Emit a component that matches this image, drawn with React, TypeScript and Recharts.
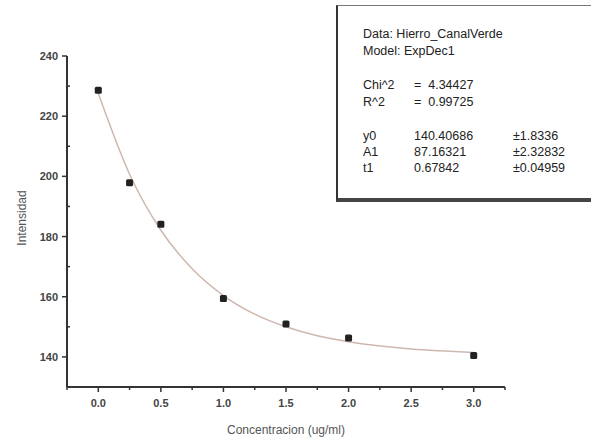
import React from "react"
import { ComposedChart, Line, Scatter, XAxis, YAxis } from "recharts"

// measured points
const concentracion = [0, 0.25, 0.5, 1.0, 1.5, 2.0, 3.0]
const intensidad = [228.6, 197.9, 184.1, 159.4, 150.9, 146.3, 140.5]

// ExpDec1 fit curve
const fitX = [0, 0.25, 0.5, 0.75, 1.0, 1.25, 1.5, 1.75, 2.0, 2.5, 3.0]
const fitY = [227.6, 200.7, 182.1, 169.3, 160.4, 154.2, 150.0, 147.0, 145.0, 142.6, 141.5]

const xTicks = [-0.25, 0, 0.25, 0.5, 0.75, 1.0, 1.25, 1.5, 1.75, 2.0, 2.25, 2.5, 2.75, 3.0, 3.25]
const yTicks = [140, 150, 160, 170, 180, 190, 200, 210, 220, 230, 240]

const fitRows = [
  { name: "y0", value: "140.40686", err: "±1.8336" },
  { name: "A1", value: "87.16321", err: "±2.32832" },
  { name: "t1", value: "0.67842", err: "±0.04959" },
]

const points = concentracion.map((x, i) => ({ x, y: intensidad[i] }))
const curve = fitX.map((x, i) => ({ x, y: fitY[i] }))

const axisColor = "#333"
const font = "'Liberation Sans', Arial, sans-serif"

function XTick(props: any) {
  const { x, y, payload } = props
  const v = payload.value
  const major = Math.abs(v * 2 - Math.round(v * 2)) < 1e-6 && v >= 0 && v <= 3
  return (
    <g>
      <line x1={x} x2={x} y1={y} y2={y + (major ? 5 : 3)} stroke={axisColor} strokeWidth={1.5} />
      {major && (
        <text x={x} y={y + 20} textAnchor="middle" fontSize={11} fontWeight="bold" fill="#444" fontFamily={font}>
          {v.toFixed(1)}
        </text>
      )}
    </g>
  )
}

function YTick(props: any) {
  const { x, y, payload } = props
  const v = payload.value
  const major = v % 20 === 0
  return (
    <g>
      <line x1={x} x2={major ? x - 5 : x + 3} y1={y} y2={y} stroke={axisColor} strokeWidth={1.5} />
      {major && (
        <text x={x - 9} y={y + 4} textAnchor="end" fontSize={11} fontWeight="bold" fill="#444" fontFamily={font}>
          {v}
        </text>
      )}
    </g>
  )
}

function Marker(props: any) {
  const { cx, cy } = props
  return <rect x={cx - 3.5} y={cy - 3.5} width={7} height={7} rx={1.5} fill="#222" />
}

export default function App() {
  return (
    <div style={{ position: "absolute", left: 0, top: 0, width: 591, height: 438, background: "#fff" }}>
      <ComposedChart width={591} height={438} margin={{ top: 56, right: 86, bottom: 0, left: 0 }}>
        <XAxis
          type="number"
          dataKey="x"
          domain={[-0.25, 3.25]}
          ticks={xTicks}
          interval={0}
          height={51}
          tickSize={0}
          tickMargin={0}
          tickLine={false}
          axisLine={{ stroke: axisColor, strokeWidth: 2 }}
          tick={<XTick />}
          allowDataOverflow
          label={{
            content: () => (
              <text x={286} y={434} textAnchor="middle" fontSize={12} fill="#555" fontFamily={font}>
                Concentracion (ug/ml)
              </text>
            ),
          }}
        />
        <YAxis
          type="number"
          dataKey="y"
          domain={[130, 240]}
          ticks={yTicks}
          interval={0}
          width={67}
          tickSize={0}
          tickMargin={0}
          tickLine={false}
          axisLine={{ stroke: axisColor, strokeWidth: 2 }}
          tick={<YTick />}
          allowDataOverflow
          label={{
            content: () => (
              <text
                x={26}
                y={218}
                transform="rotate(-90 26 218)"
                textAnchor="middle"
                fontSize={12}
                fill="#555"
                fontFamily={font}
              >
                Intensidad
              </text>
            ),
          }}
        />
        <Line
          data={curve}
          dataKey="y"
          type="monotone"
          stroke="#cdb8ae"
          strokeWidth={1.5}
          dot={false}
          activeDot={false}
          isAnimationActive={false}
        />
        <Scatter data={points} dataKey="y" shape={<Marker />} isAnimationActive={false} />
      </ComposedChart>
      <div
        style={{
          position: "absolute",
          left: 336,
          top: 5,
          width: 262,
          height: 192,
          borderLeft: "2px solid #333",
          borderTop: "1px solid #777",
          borderBottom: "4px solid #444",
          background: "#fff",
          fontFamily: font,
          fontSize: 12.5,
          color: "#222",
          lineHeight: "17px",
        }}
      >
        <div style={{ position: "absolute", left: 25, top: 20 }}>Data: Hierro_CanalVerde</div>
        <div style={{ position: "absolute", left: 25, top: 37 }}>Model: ExpDec1</div>
        <div style={{ position: "absolute", left: 25, top: 71 }}>Chi^2</div>
        <div style={{ position: "absolute", left: 76, top: 71 }}>=&nbsp;&nbsp;4.34427</div>
        <div style={{ position: "absolute", left: 25, top: 88 }}>R^2</div>
        <div style={{ position: "absolute", left: 76, top: 88 }}>=&nbsp;&nbsp;0.99725</div>
        {fitRows.map((r, i) => (
          <React.Fragment key={r.name}>
            <div style={{ position: "absolute", left: 25, top: 122 + i * 16 }}>{r.name}</div>
            <div style={{ position: "absolute", left: 76, top: 122 + i * 16 }}>{r.value}</div>
            <div style={{ position: "absolute", left: 175, top: 122 + i * 16 }}>{r.err}</div>
          </React.Fragment>
        ))}
      </div>
    </div>
  )
}
